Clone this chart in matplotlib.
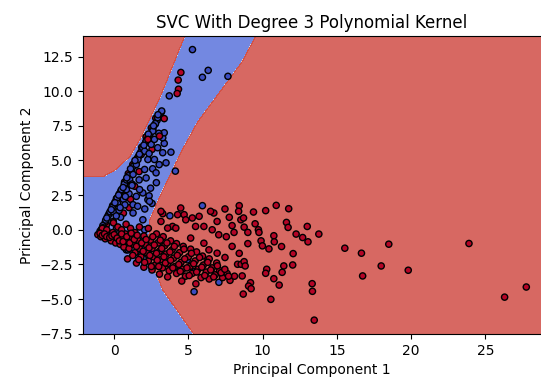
import numpy as np
import matplotlib
matplotlib.use("Agg")
import matplotlib.pyplot as plt

# decision boundary
# left red lobe: red above this curve (y as a function of x)
lobe_x = [-1.9, -0.73, 0.13, 1.07, 1.73, 2.4, 3.13, 4.8, 5.5]
lobe_y = [3.82, 3.84, 4.35, 5.3, 6.5, 8.0, 9.65, 14.1, 17.0]
# right red region: red right of this curve (x as a function of y)
right_y = [-7.6, -4.35, -2.17, -0.5, 0.72, 1.23, 2.4, 5.8, 7.75, 12.1, 14.1]
right_x = [5.4, 3.27, 2.47, 2.33, 2.4, 2.6, 3.07, 4.6, 5.6, 8.6, 9.6]

# class 1 (red) points sitting in the upper arm, drawn under the blue ones
red_arm_x = [1.82, 1.38, 0.6, 0.38, 0.82, 0.16, -0.18, -0.06, -0.52, 1.1, 0.72, 1.68, 1.0,
             0.62, 2.55, -0.85, -0.6, -0.35, -0.1, 0.15, 0.45, 0.7, 0.95, 1.25, 1.55, 1.85,
             2.15, 2.5, 2.8]
red_arm_y = [5.43, 3.14, 2.66, 2.41, 3.5, 1.93, 1.33, 0.6, 0.36, 2.2, 3.1, 4.2, 1.6,
             1.2, 5.8, 0.05, 0.55, 1.15, 1.75, 2.25, 2.8, 3.45, 4.05, 4.7, 5.15, 5.95,
             6.7, 7.35, 8.05]

# class 0 (blue) points
blue_x = [-0.95, -0.76, -0.57, -0.42, -0.28, -0.14, 0.06, 0.2, 0.35, 0.49, 0.68, 0.83, 0.97,
          1.16, 1.31, 1.45, 1.64, 1.79, 1.93, 2.12, 2.27, 2.41, 2.61, 2.75, 2.89, 3.03, 3.18,
          -0.05, 0.23, 0.33, 0.62, 0.81, 1.0, 1.27, 1.27, 1.93, 1.93, 2.27, 1.71, 1.49, 2.35,
          0.82, 1.04, 1.27, 2.15, 1.49, 2.05, 2.59, 3.49, 1.6, 2.27, 2.71, 2.05, 3.27, 3.82,
          2.93, 2.49, 3.37, 2.71, 3.27, 3.37, 3.0, 2.6, 2.78, 2.93, 3.2, 3.71, 4.12, 2.82,
          2.15, 2.84, 2.45, 1.2, 0.72, 0.43, 0.14, 1.68, 2.35, 3.03, 1.58, 2.06, 2.55, 0.16,
          0.04, 2.05, -0.84, 0.82, 5.94, 3.75, 2.38, 5.27, 6.33, 5.94, 7.66,
          0.93, 1.82, 2.27, 3.49, 4.93, 5.42, 5.38, 7.05, 6.27,
          -0.75, -0.5, -0.2, 0.05, 0.3, 0.6, 0.85, 1.1, 1.4, 1.7, 2.0, 2.3, 2.65, 2.95,
          0.4, 0.75, 1.2]
blue_y = [-0.1, 0.3, 0.7, 1.0, 1.3, 1.6, 2.0, 2.3, 2.6, 2.9, 3.3, 3.6, 3.9,
          4.3, 4.6, 4.9, 5.3, 5.6, 5.9, 6.3, 6.6, 6.9, 7.3, 7.6, 7.9, 8.2, 8.5,
          1.3, 1.9, 1.4, 2.2, 2.9, 2.6, 1.81, 1.21, 0.72, 2.66, 2.17, 2.9, 2.41, 2.45,
          2.9, 3.62, 3.99, 3.74, 4.71, 4.35, 4.4, 4.83, 5.07, 5.07, 5.07, 5.67, 5.56, 5.6,
          5.92, 6.16, 6.23, 6.52, 6.64, 7.0, 6.96, 7.12, 7.66, 8.09, 8.57, 9.66, 4.23, 4.11,
          6.4, 3.4, 3.0, 3.3, 1.8, 0.9, 1.0, 3.6, 5.5, 4.7, 1.7, 1.5, 1.9, 0.12,
          -0.6, 0.0, 0.0, -1.45, 1.74, 1.01, 2.05, 13.0, 11.5, 11.0, 11.07,
          -1.45, -1.81, -1.81, -2.3, -2.17, -3.02, -4.47, -3.79, -2.3,
          0.15, 0.85, 1.45, 1.95, 2.5, 3.05, 3.75, 4.4, 5.0, 5.45, 6.1, 6.9, 7.5, 8.3,
          1.6, 2.4, 3.2]

# class 1 (red) points, the rest
red_x = [4.49, 4.31, 4.33, 4.24, 3.37, 2.27, 3.05,
         -1.1, -0.9, -0.7, -0.6, -0.4, -0.2, -0.1, 0.1, 0.3, 0.4, 0.55, 0.65, 0.75, 0.9,
         1.0, 1.2, 1.3, 1.4, 1.6, 1.7, 1.8, 2.0, 2.1, 2.2, 2.3, 2.45, 2.55, 2.65, 2.75,
         2.95, 3.05, 3.15, 3.25, 3.4, 3.5, 3.6, 3.7, 3.9, 4.0, 4.1, 4.2, 4.4, 4.5, 4.6,
         4.8, 5.0, 5.1, 5.25, 5.45, 5.65, 5.85, 6.0, 6.2, 6.4, 6.6, 6.8, 7.1, 7.3, 7.6,
         7.8, 8.1, -0.05, 0.25, 0.5, 0.8, 1.1, 1.4, 1.7, 2.3, 2.85, 3.3, 3.8, 4.2, 4.65,
         5.15, 5.55, 5.95, 6.4, 6.9, -0.8, -0.5, 0.9, 1.5, 2.0, 2.55, 3.05, 3.6, 4.55, 5.5,
         -0.95, -0.8, -0.65, -0.5, -0.3, -0.15, 0.0, 0.2, 0.35, 0.5, 0.6, 0.85, 1.05, 1.15,
         1.35, 1.5, 1.55, 1.85, 1.95, 2.15, 2.35, 2.4, 2.6, 2.7, 2.85, 2.9, 3.1, 3.2, 3.35,
         3.45, 3.55, 3.75, 3.8, 3.95, 4.05, 4.25, 4.35, 4.45, 4.7, 4.75, 4.9, 5.05, 5.2,
         5.35, 5.55, 5.75, 5.9, 6.1, 6.3, 6.5, 6.7, 6.95, 7.2, 7.45, 7.7, 1.25, 1.65, 2.05,
         2.5, 3.0,
         3.27, 4.48, 4.27, 4.71, 5.26, 4.82, 6.71, 6.93, 3.15, 3.93, 4.15, 5.15, 5.48,
         6.04, 6.6, 7.04, 6.04, 6.38, 6.93, 3.15, 3.6, 5.72, 6.49, 7.46, 7.75, 7.55, 7.94,
         7.46, 8.42, 9.0, 7.94,
         8.42, 8.38, 9.38, 10.2, 10.91, 11.75, 8.53, 8.71, 9.49, 8.75, 9.0, 9.71, 9.75,
         11.6, 11.71, 13.0, 12.25, 12.69, 13.05, 13.78, 8.07, 9.89, 9.98, 10.42, 10.75,
         10.78, 11.27, 12.05, 15.53, 16.65, 18.49, 8.31, 8.55, 8.75, 8.82, 10.27, 10.2,
         11.42, 11.31, 12.02, 17.98, 16.73, 8.62, 10.75, 9.18, 9.05, 9.22, 11.11, 13.33,
         13.35, 8.69, 10.55, 23.89, 19.8, 27.75, 26.29, 13.47]
red_y = [11.35, 10.8, 10.14, 9.83, 8.02, 6.52, 6.76,
         -0.35, -0.5, -0.2, -0.65, -0.35, -0.8, -0.2, -0.95, -0.45, -1.05, -0.65, -1.25, -0.3, -0.85,
         -1.35, -0.55, -1.05, -1.65, -0.75, -1.35, -1.95, -0.45, -1.05, -1.65, -2.25, -0.75, -1.35, -1.95, -2.55,
         -0.95, -1.55, -2.15, -2.75, -1.15, -1.75, -2.45, -2.95, -1.45, -2.05, -2.65, -3.15, -1.65, -2.35, -2.85,
         -3.35, -1.95, -2.65, -3.15, -2.25, -2.85, -3.45, -2.55, -3.05, -3.55, -2.75, -3.25, -2.95, -3.45, -3.15,
         -3.65, -3.35, 0.5, 0.2, 0.0, 0.4, 0.1, -0.2, 0.2, 0.1, -0.3, -0.5, -0.8, -1.0, -1.2,
         -1.4, -1.6, -1.9, -2.1, -2.4, 0.1, 0.0, -2.1, -2.4, -2.7, -2.9, -3.2, -3.4, -3.7, -3.9,
         -0.25, -0.4, -0.3, -0.5, -0.55, -0.45, -0.35, -0.6, -0.8, -0.3, -0.85, -0.5, -0.95, -0.25,
         -0.7, -1.2, -0.4, -0.95, -1.55, -0.7, -1.3, -1.85, -0.5, -1.1, -1.7, -2.2, -0.75, -1.35, -1.95,
         -2.4, -0.95, -1.6, -2.2, -2.75, -1.2, -1.85, -2.5, -3.0, -1.4, -2.1, -2.75, -3.3, -1.7,
         -2.45, -3.05, -2.0, -2.7, -3.3, -2.35, -2.9, -3.4, -2.6, -3.1, -2.85, -3.35, -1.85, -2.15, -2.35,
         -2.65, -2.65,
         1.16, 1.57, 1.09, 1.09, 0.85, 0.72, 1.21, 0.6, 0.6, 0.24, 0.12, -0.6, 0.24,
         0.24, 0.0, -0.36, -0.97, -1.45, -1.69, 1.33, 0.12, 0.97, 1.33, 1.5, 0.9, -0.5, -1.2,
         -2.0, -1.7, -1.0, 0.3,
         1.74, 1.33, 1.28, 1.38, 1.76, 1.52, 0.72, 0.85, 0.43, 0.19, -0.19, 0.0, -0.19,
         0.53, 0.17, 0.24, -0.31, -0.56, -0.87, -0.31, -0.19, -0.8, -1.16, -1.38, -0.43,
         -0.87, -1.21, -1.72, -1.33, -1.69, -1.04, -2.49, -2.49, -2.3, -2.61, -2.85, -3.14,
         -2.61, -3.07, -2.54, -2.61, -3.33, -3.33, -3.53, -3.82, -4.06, -4.25, -3.99, -3.89,
         -4.44, -4.64, -5.02, -0.99, -2.92, -4.13, -4.86, -6.52]

all_x = red_arm_x + blue_x + red_x
all_y = red_arm_y + blue_y + red_y
X = np.column_stack([np.array(all_x), np.array(all_y)])
labels = np.array([1] * len(red_arm_x) + [0] * len(blue_x) + [1] * len(red_x))

x_min, x_max = X[:, 0].min() - 1, X[:, 0].max() + 1
y_min, y_max = X[:, 1].min() - 1, X[:, 1].max() + 1
h = 0.02
xx, yy = np.meshgrid(np.arange(x_min, x_max, h), np.arange(y_min, y_max, h))

red_lobe = yy > np.interp(xx, lobe_x, lobe_y)
red_right = xx > np.interp(yy, right_y, right_x)
Z = (red_lobe | red_right).astype(int)

fig = plt.figure(figsize=(5.41, 3.86), dpi=100)
ax = fig.add_axes([83 / 541, 52 / 386, 458 / 541, 298 / 386])
ax.contourf(xx, yy, Z, cmap=plt.cm.coolwarm, alpha=0.8)
ax.scatter(X[:, 0], X[:, 1], c=labels, cmap=plt.cm.coolwarm, s=20, edgecolors='k')
ax.set_xlim(xx.min(), xx.max())
ax.set_ylim(yy.min(), yy.max())
ax.spines['right'].set_visible(False)
ax.set_xlabel('Principal Component 1')
ax.set_ylabel('Principal Component 2')
ax.set_title('SVC With Degree 3 Polynomial Kernel')
fig.savefig('out.png', dpi=100)
